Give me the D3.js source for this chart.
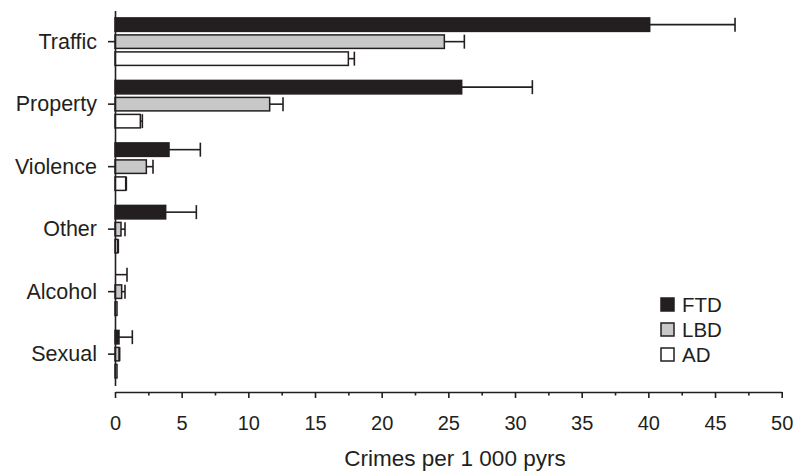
<!DOCTYPE html>
<html>
<head>
<meta charset="utf-8">
<script src="https://cdn.jsdelivr.net/npm/d3@7/dist/d3.min.js"></script>
<style>
    body { margin: 0; background: #fff; }
    svg { display: block; font-family: "Liberation Sans", Arial, Helvetica, sans-serif; }
</style>
</head>
<body>
<div id="chart"></div>
<script>
    // categories and series (crimes per 1 000 pyrs)
    const categories = ["Traffic", "Property", "Violence", "Other", "Alcohol", "Sexual"];
    const series = ["FTD", "LBD", "AD"];
    const ftd = [40.1, 26.0, 4.05, 3.8, 0, 0.3];
    const ftdUpper = [46.5, 31.3, 6.4, 6.1, 0.9, 1.3];
    const lbd = [24.7, 11.6, 2.35, 0.45, 0.5, 0.3];
    const lbdUpper = [26.2, 12.6, 2.85, 0.75, 0.75, 0.35];
    const ad = [17.5, 1.9, 0.8, 0.2, 0.15, 0.15];
    const adUpper = [17.95, 2.05, 0.85, 0.25, 0.15, 0.15];
    const majorTicks = [0, 5, 10, 15, 20, 25, 30, 35, 40, 45, 50];
    const minorTicks = [2.5, 7.5, 12.5, 17.5, 22.5, 27.5, 32.5, 37.5, 42.5, 47.5];
    const xTitle = "Crimes per 1 000 pyrs";

    const width = 794, height = 474;
    const ink = "#231f20";
    const fills = {FTD: ink, LBD: "#c8c8c8", AD: "#fff"};
    const values = {FTD: ftd, LBD: lbd, AD: ad};
    const uppers = {FTD: ftdUpper, LBD: lbdUpper, AD: adUpper};
    const offsets = {FTD: -17, LBD: 0, AD: 17};
    const barH = 13.5;

    let svg = d3.select("#chart")
        .append("svg")
        .attr("width", width)
        .attr("height", height);

    let x = d3.scaleLinear().domain([0, 50]).range([115, 781.7]);
    let y = d3.scaleBand().domain(categories).range([10.4, 385.4]);
    const center = c => y(c) + y.bandwidth() / 2;

    // bars
    series.forEach(s => {
        let g = svg.append("g").attr("class", "series-" + s);
        let rows = categories.map((c, i) => ({c, v: values[s][i], u: uppers[s][i]}));

        // error bars (upper side only)
        g.selectAll("line.err")
            .data(rows.filter(d => d.u > d.v))
            .enter().append("line")
            .attr("class", "err")
            .attr("x1", d => x(d.v)).attr("x2", d => x(d.u))
            .attr("y1", d => center(d.c) + offsets[s])
            .attr("y2", d => center(d.c) + offsets[s])
            .attr("stroke", ink).attr("stroke-width", 1.6);
        g.selectAll("line.cap")
            .data(rows.filter(d => d.u > d.v))
            .enter().append("line")
            .attr("class", "cap")
            .attr("x1", d => x(d.u)).attr("x2", d => x(d.u))
            .attr("y1", d => center(d.c) + offsets[s] - 7)
            .attr("y2", d => center(d.c) + offsets[s] + 7)
            .attr("stroke", ink).attr("stroke-width", 1.6);

        g.selectAll("rect")
            .data(rows.filter(d => d.v > 0))
            .enter().append("rect")
            .attr("x", x(0))
            .attr("y", d => center(d.c) + offsets[s] - barH / 2)
            .attr("width", d => x(d.v) - x(0))
            .attr("height", barH)
            .attr("fill", fills[s])
            .attr("stroke", ink)
            .attr("stroke-width", 1.5);
    });

    // x axis
    let xAxis = svg.append("g")
        .attr("transform", "translate(0,392)")
        .call(d3.axisBottom(x).tickValues(majorTicks).tickSize(6).tickSizeOuter(0).tickPadding(18));
    svg.append("g")
        .attr("transform", "translate(0,392)")
        .call(d3.axisBottom(x).tickValues(minorTicks).tickSize(3.5).tickSizeOuter(0).tickFormat(""))
        .select(".domain").remove();
    xAxis.selectAll("text").attr("font-size", 20).attr("fill", ink).attr("font-family", null);

    // y axis
    let yAxis = svg.append("g")
        .attr("transform", "translate(115,0)")
        .call(d3.axisLeft(y).tickSize(7).tickSizeOuter(0).tickPadding(11));
    yAxis.selectAll("text").attr("font-size", 21.5).attr("fill", ink).attr("font-family", null);

    svg.selectAll(".domain, .tick line").attr("stroke", ink).attr("stroke-width", 1.6);

    // axis title
    svg.append("text")
        .attr("x", 455).attr("y", 466)
        .attr("text-anchor", "middle")
        .attr("font-size", 22.5)
        .attr("fill", ink)
        .text(xTitle);

    // legend
    let legend = svg.append("g").attr("class", "legend");
    let item = legend.selectAll("g")
        .data(series)
        .enter().append("g")
        .attr("transform", (d, i) => `translate(661,${298 + i * 25})`);
    item.append("rect")
        .attr("width", 13).attr("height", 13)
        .attr("fill", d => fills[d])
        .attr("stroke", ink).attr("stroke-width", 1.5);
    item.append("text")
        .attr("x", 21).attr("y", 6.5)
        .attr("dy", "0.36em")
        .attr("font-size", 20.5)
        .attr("fill", ink)
        .text(d => d);
</script>
</body>
</html>
